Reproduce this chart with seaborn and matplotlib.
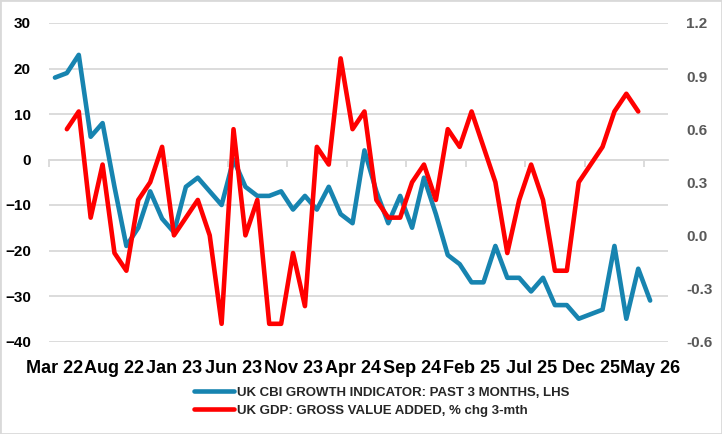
import numpy as np
import pandas as pd
import matplotlib.pyplot as plt
import seaborn as sns
from matplotlib.patches import Rectangle

# --- data (monthly, Mar 22 .. May 26) ---
months = pd.period_range('2022-03', '2026-05', freq='M')

cbi_growth = [18, 19, 23, 5, 8, -6, -19, -15, -7, -13,
              -16, -6, -4, -7, -10, 0, -6, -8, -8, -7,
              -11, -8, -11, -6, -12, -14, 2, -7, -14, -8,
              -15, -4, -12, -21, -23, -27, -27, -19, -26, -26,
              -29, -26, -32, -32, -35, -34, -33, -19, -35, -24,
              -31]

gdp_3m = [np.nan, 0.6, 0.7, 0.1, 0.4, -0.1, -0.2, 0.2, 0.3, 0.5,
          0.0, 0.1, 0.2, 0.0, -0.5, 0.6, 0.0, 0.2, -0.5, -0.5,
          -0.1, -0.4, 0.5, 0.4, 1.0, 0.6, 0.7, 0.2, 0.1, 0.1,
          0.3, 0.4, 0.2, 0.6, 0.5, 0.7, 0.5, 0.3, -0.1, 0.2,
          0.4, 0.2, -0.2, -0.2, 0.3, 0.4, 0.5, 0.7, 0.8, 0.7,
          np.nan]

tick_labels = ['Mar 22', 'Aug 22', 'Jan 23', 'Jun 23', 'Nov 23', 'Apr 24',
               'Sep 24', 'Feb 25', 'Jul 25', 'Dec 25', 'May 26']

CBI_LABEL = 'UK CBI GROWTH INDICATOR: PAST 3 MONTHS, LHS'
GDP_LABEL = 'UK GDP: GROSS VALUE ADDED, % chg 3-mth'
BLUE = '#1784b0'
RED = '#ff0000'
GRID = '#d9d9d9'

df = pd.DataFrame({'pos': np.arange(len(months)), 'cbi': cbi_growth, 'gdp': gdp_3m})

sns.set_style('white')
plt.rcParams['font.family'] = ['Liberation Sans', 'DejaVu Sans']
plt.rcParams['font.weight'] = 'bold'

fig = plt.figure(figsize=(7.22, 4.34), dpi=100)
ax = fig.add_axes([49 / 722, 1 - 341.5 / 434, (668 - 49) / 722, (341.5 - 23) / 434])
ax2 = ax.twinx()

sns.lineplot(data=df, x='pos', y='cbi', ax=ax, color=BLUE, linewidth=3.3,
             label=CBI_LABEL, legend=False)
sns.lineplot(data=df.dropna(), x='pos', y='gdp', ax=ax2, color=RED, linewidth=3.3,
             label=GDP_LABEL, legend=False)

# left axis
ax.set_xlim(-0.5, len(months) + 0.5)
ax.set_ylim(-40, 30)
ax.set_yticks(np.arange(-40, 31, 10))
ax.yaxis.grid(True, color=GRID, linewidth=1.3)
ax.set_axisbelow(True)
ax.tick_params(axis='y', length=0, pad=13, labelsize=11, labelcolor='black')
ax.set_xticks(np.arange(0, len(months), 5))
ax.set_xticklabels(tick_labels)
ax.tick_params(axis='x', length=0, pad=13, labelsize=13, labelcolor='black')
ax.set_xlabel('')
ax.set_ylabel('')

# right axis
ax2.set_ylim(-0.6, 1.2)
ax2.set_yticks(np.arange(-0.6, 1.21, 0.3))
ax2.set_yticklabels([f'{v:.1f}' for v in np.arange(-0.6, 1.21, 0.3)])
ax2.tick_params(axis='y', length=0, pad=13, labelsize=11, labelcolor='#595959')
ax2.set_ylabel('')

for a in (ax, ax2):
    for s in a.spines.values():
        s.set_visible(False)

# category axis crossing at zero, with tick marks between categories
sec = ax.secondary_xaxis(40 / 70)
sec.set_alignment('bottom')
sec.set_xticks(np.arange(-0.5, len(months) - 1, 5))
sec.tick_params(axis='x', direction='out', length=5, width=1.3, color=GRID,
                labelbottom=False, labeltop=False)
sec.spines['bottom'].set_color(GRID)
sec.spines['bottom'].set_linewidth(1.3)

# legend
h1, l1 = ax.get_legend_handles_labels()
h2, l2 = ax2.get_legend_handles_labels()
fig.legend(h1 + h2, l1 + l2, loc='center', bbox_to_anchor=(0.529, 1 - 401.5 / 434),
           frameon=False, fontsize=9.5, handlelength=3.0, handletextpad=0.25,
           labelspacing=0.45, borderpad=0)

fig.patches.append(Rectangle((0, 0), 1, 1, transform=fig.transFigure, fill=False,
                             edgecolor=GRID, linewidth=2))

fig.savefig('out.png', dpi=100)
